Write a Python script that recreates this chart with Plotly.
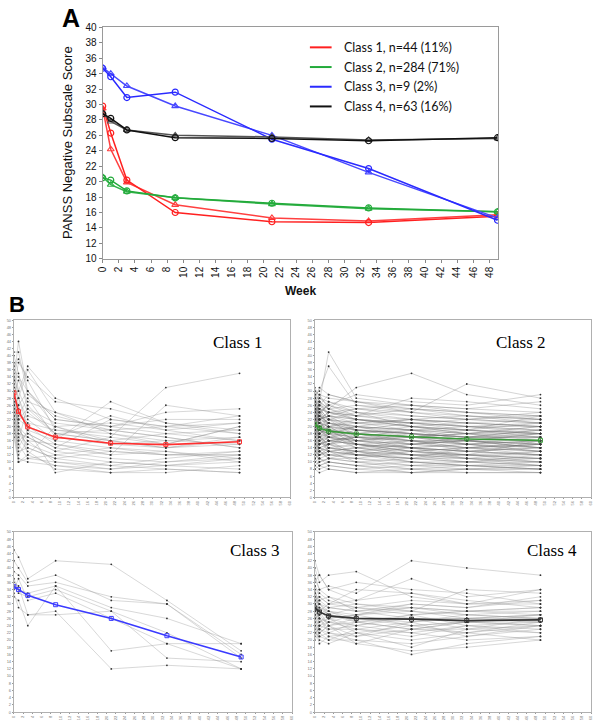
import plotly.graph_objects as go

# ---------------- data ----------------
weeks = [0, 1, 3, 9, 21, 33, 49]
class_names = ["Class 1, n=44 (11%)", "Class 2, n=284 (71%)", "Class 3, n=9 (2%)", "Class 4, n=63 (16%)"]
panel_titles = ["Class 1", "Class 2", "Class 3", "Class 4"]

# Panel A: observed means (circles) and estimated trajectories (triangles)
obs_c1 = [29.8, 26.3, 20.2, 16.0, 14.8, 14.7, 15.5]
est_c1 = [29.5, 24.2, 19.9, 17.0, 15.3, 14.9, 15.7]
obs_c2 = [20.5, 20.2, 18.8, 17.9, 17.2, 16.6, 16.1]
est_c2 = [20.6, 19.6, 18.7, 17.9, 17.1, 16.5, 16.1]
obs_c3 = [34.7, 33.6, 30.9, 31.6, 25.5, 21.7, 15.0]
est_c3 = [34.8, 34.0, 32.4, 29.8, 26.0, 21.2, 15.3]
obs_c4 = [28.8, 28.2, 26.7, 25.7, 25.6, 25.3, 25.7]
est_c4 = [28.9, 27.8, 26.7, 26.0, 25.8, 25.4, 25.6]

y_ticks_A = list(range(10, 41, 2))
x_ticks_A = list(range(0, 49, 2))
y_ticks_B = list(range(0, 51, 2))
x_ticks_B = list(range(0, 61, 2))

# Panel B: individual trajectories
ind_c1 = [
    [33, 44, 30, 22, 20, 18, 19], [40, 35, 25, 18, 16, 14, 15], [38, 30, 37, 28, 22, 20, 21],
    [36, 34, 30, 20, 15, 16, 17], [35, 28, 22, 16, 14, 12, 13], [34, 30, 24, 18, 19, 20, 23],
    [33, 26, 18, 14, 12, 13, 11], [32, 28, 36, 24, 18, 16, 15], [31, 22, 20, 15, 13, 12, 12],
    [30, 25, 19, 16, 27, 21, 18], [30, 20, 17, 13, 11, 10, 11], [29, 24, 21, 19, 17, 31, 35],
    [28, 18, 15, 12, 10, 9, 8], [28, 26, 30, 22, 20, 24, 25], [27, 20, 14, 11, 9, 8, 7],
    [27, 22, 23, 20, 16, 18, 16], [26, 19, 16, 10, 8, 10, 12], [26, 23, 28, 17, 15, 14, 16],
    [25, 21, 12, 9, 7, 8, 7], [25, 16, 18, 14, 22, 20, 18], [24, 17, 13, 8, 7, 7, 9],
    [24, 22, 25, 21, 19, 17, 14], [23, 15, 11, 12, 14, 13, 10], [23, 18, 17, 13, 17, 15, 20],
    [22, 14, 19, 7, 10, 9, 10], [22, 12, 16, 15, 12, 26, 23], [21, 10, 11, 10, 9, 11, 13],
    [20, 13, 14, 11, 13, 12, 12], [19, 16, 26, 18, 16, 14, 17], [18, 11, 10, 9, 8, 9, 11],
    [17, 10, 12, 20, 21, 19, 16], [29, 33, 27, 24, 20, 22, 22], [31, 38, 34, 27, 25, 21, 19],
    [41, 41, 29, 23, 19, 17, 14], [37, 39, 33, 19, 18, 15, 20], [26, 28, 20, 17, 23, 19, 21],
]
ind_c2 = [
    [31, 28, 26, 29, 27, 26, 29], [30, 27, 41, 28, 26, 25, 27], [29, 30, 37, 26, 24, 32, 28],
    [28, 26, 25, 31, 35, 29, 26], [27, 25, 24, 23, 28, 27, 25], [27, 22, 23, 25, 26, 24, 23],
    [26, 24, 22, 21, 22, 23, 22], [26, 23, 27, 24, 20, 21, 20], [25, 21, 20, 22, 21, 19, 23],
    [25, 24, 19, 20, 19, 20, 18], [24, 22, 23, 19, 18, 17, 19], [24, 19, 21, 18, 20, 18, 16],
    [23, 21, 18, 20, 17, 19, 17], [23, 20, 22, 17, 16, 16, 18], [22, 18, 17, 19, 18, 15, 16],
    [22, 21, 20, 16, 17, 18, 15], [21, 19, 18, 18, 15, 17, 17], [21, 17, 19, 15, 16, 14, 16],
    [21, 20, 16, 17, 19, 16, 14], [20, 18, 20, 16, 14, 15, 17], [20, 19, 17, 18, 16, 13, 15],
    [20, 16, 18, 14, 15, 16, 14], [19, 17, 15, 16, 17, 15, 13], [19, 18, 19, 15, 13, 14, 15],
    [19, 15, 16, 17, 14, 12, 16], [18, 17, 14, 13, 15, 16, 14], [18, 16, 17, 15, 12, 13, 12],
    [18, 14, 15, 14, 16, 15, 13], [17, 15, 16, 12, 14, 13, 14], [17, 16, 13, 14, 13, 12, 11],
    [17, 13, 14, 13, 11, 14, 12], [16, 14, 12, 11, 13, 11, 13], [16, 15, 15, 12, 12, 12, 11],
    [15, 13, 11, 13, 10, 10, 12], [15, 12, 13, 10, 11, 11, 10], [14, 12, 12, 11, 9, 10, 9],
    [14, 11, 10, 9, 10, 9, 10], [13, 10, 11, 10, 8, 8, 9], [12, 11, 9, 8, 9, 9, 8],
    [11, 9, 10, 9, 7, 8, 8], [10, 9, 8, 7, 8, 7, 7], [9, 8, 9, 8, 7, 8, 7],
    [8, 7, 8, 7, 7, 7, 7], [22, 24, 26, 23, 25, 23, 21], [24, 26, 24, 25, 23, 22, 24],
    [19, 21, 22, 20, 19, 18, 20], [16, 18, 20, 21, 20, 19, 21], [13, 15, 17, 16, 18, 17, 19],
    [12, 14, 15, 17, 15, 16, 18], [26, 22, 18, 15, 13, 12, 10], [28, 23, 19, 16, 14, 11, 9],
    [23, 17, 13, 12, 11, 10, 11], [20, 22, 24, 22, 21, 20, 19], [18, 20, 19, 18, 17, 18, 20],
    [15, 17, 16, 15, 14, 15, 16], [27, 29, 25, 26, 25, 24, 22], [25, 23, 21, 19, 18, 17, 16],
    [14, 16, 14, 13, 14, 13, 14], [17, 19, 17, 16, 15, 14, 15], [21, 23, 21, 20, 18, 17, 17],
    [11, 13, 12, 12, 11, 12, 12], [29, 27, 23, 22, 20, 19, 18], [23, 25, 20, 18, 16, 14, 13],
    [19, 20, 21, 19, 21, 22, 23], [16, 13, 15, 18, 19, 17, 18], [25, 22, 17, 14, 12, 10, 9],
    [21, 18, 14, 12, 10, 9, 8], [18, 19, 18, 20, 22, 21, 22], [13, 12, 13, 14, 12, 11, 10],
    [28, 31, 29, 27, 26, 25, 24], [24, 27, 25, 22, 21, 20, 21], [20, 25, 22, 19, 17, 18, 19],
    [30, 29, 28, 27, 25, 24, 23], [29, 25, 22, 24, 23, 22, 21], [28, 24, 20, 19, 18, 16, 15],
    [27, 26, 23, 21, 22, 20, 19], [26, 25, 24, 22, 20, 18, 17], [25, 20, 17, 16, 15, 14, 13],
    [24, 23, 22, 21, 19, 18, 18], [23, 22, 24, 23, 22, 21, 20], [22, 19, 16, 15, 14, 13, 12],
    [21, 22, 23, 22, 20, 19, 18], [20, 17, 15, 13, 12, 12, 11], [19, 19, 18, 17, 16, 16, 16],
    [18, 18, 20, 19, 18, 17, 17], [17, 18, 16, 15, 13, 12, 13], [16, 17, 18, 17, 16, 15, 14],
    [15, 14, 13, 12, 11, 10, 10], [14, 15, 16, 17, 17, 16, 15], [13, 14, 13, 12, 13, 14, 15],
    [12, 13, 11, 10, 9, 8, 8], [11, 12, 14, 15, 14, 13, 12], [10, 11, 12, 13, 12, 11, 11],
    [9, 10, 11, 11, 10, 9, 9], [8, 9, 10, 9, 8, 9, 8], [24, 26, 29, 27, 24, 23, 22],
    [22, 27, 25, 23, 21, 20, 20], [20, 24, 26, 24, 22, 21, 20], [18, 22, 21, 20, 19, 19, 18],
    [26, 28, 27, 25, 24, 22, 21], [23, 21, 19, 18, 17, 16, 15], [21, 20, 19, 18, 17, 15, 14],
]
ind_c3 = [
    [45, 43, 37, 42, 41, 31, 17], [42, 40, 36, 38, 31, 30, 16], [39, 38, 35, 36, 32, 30, 15],
    [37, 34, 33, 35, 29, 26, 19], [35, 33, 32, 34, 28, 22, 12], [34, 37, 31, 33, 26, 19, 19],
    [33, 29, 27, 27, 28, 15, 14], [32, 31, 24, 35, 17, 19, 12], [36, 35, 27, 28, 12, 13, 12],
]
ind_c4 = [
    [42, 38, 34, 36, 34, 33, 30], [40, 36, 38, 39, 32, 30, 34], [38, 34, 35, 33, 42, 40, 38],
    [36, 38, 34, 31, 37, 32, 34], [35, 32, 30, 34, 33, 30, 31], [34, 30, 29, 30, 28, 34, 33],
    [33, 31, 32, 28, 30, 29, 32], [33, 29, 27, 29, 27, 28, 29], [32, 28, 26, 27, 29, 27, 28],
    [31, 27, 28, 25, 26, 26, 27], [31, 30, 27, 26, 25, 27, 26], [30, 26, 25, 27, 24, 25, 27],
    [30, 28, 26, 24, 27, 24, 25], [29, 25, 27, 25, 23, 25, 24], [29, 27, 24, 26, 26, 23, 26],
    [28, 24, 25, 23, 25, 26, 25], [28, 26, 23, 24, 22, 24, 23], [27, 25, 26, 22, 24, 22, 25],
    [27, 23, 22, 25, 23, 23, 24], [26, 24, 23, 23, 21, 24, 22], [26, 22, 24, 21, 25, 21, 23],
    [25, 23, 21, 22, 20, 22, 24], [25, 21, 22, 20, 19, 21, 24], [24, 22, 20, 23, 22, 20, 21],
    [24, 20, 19, 22, 18, 23, 22], [23, 19, 21, 19, 17, 18, 20], [22, 21, 20, 20, 16, 19, 21],
    [22, 23, 25, 24, 26, 25, 26], [21, 24, 26, 27, 28, 26, 27], [20, 22, 24, 25, 27, 28, 29],
    [35, 33, 31, 29, 28, 27, 26], [37, 34, 32, 30, 29, 28, 27], [31, 32, 30, 29, 31, 30, 30],
    [28, 29, 28, 27, 30, 29, 31], [26, 27, 29, 28, 29, 28, 28], [32, 30, 28, 26, 24, 25, 25],
    [30, 31, 29, 28, 26, 26, 26], [27, 28, 30, 31, 33, 31, 29], [29, 26, 22, 21, 23, 22, 20],
    [34, 28, 24, 19, 23, 25, 24],
]

colors_A = ["#ff2020", "#22aa3a", "#2a2aff", "#111111"]
colors_A2 = ["#ff4040", "#33b34a", "#4848ff", "#555555"]
obs_all = [obs_c1, obs_c2, obs_c3, obs_c4]
est_all = [est_c1, est_c2, est_c3, est_c4]
ind_all = [ind_c1, ind_c2, ind_c3, ind_c4]

W, H = 600, 727
def px(x): return x / W
def py(y): return 1 - y / H

fig = go.Figure()

# -------- Panel A --------
for i in range(4):
    fig.add_trace(go.Scatter(x=weeks, y=est_all[i], mode="lines+markers", xaxis="x", yaxis="y",
                             line=dict(color=colors_A2[i], width=1.5),
                             marker=dict(symbol="triangle-up-open", size=6, color=colors_A2[i], line=dict(width=1.2)),
                             showlegend=False, hoverinfo="skip"))
    fig.add_trace(go.Scatter(x=weeks, y=obs_all[i], mode="lines+markers", xaxis="x", yaxis="y",
                             line=dict(color=colors_A[i], width=1.5),
                             marker=dict(symbol="circle-open", size=6, color=colors_A[i], line=dict(width=1.2)),
                             showlegend=False, hoverinfo="skip"))

# -------- Panel B --------
mean_cols = ["#ff3030", "#3a9a3a", "#3a3aff", "#333333"]
for i in range(4):
    xs, ys = [], []
    for tr in ind_all[i]:
        xs += weeks + [None]
        ys += tr + [None]
    ax = str(i + 2)
    lc = "rgba(110,110,110,0.6)" if i == 1 else "rgba(150,150,150,0.75)"
    fig.add_trace(go.Scatter(x=xs, y=ys, mode="lines+markers", xaxis="x" + ax, yaxis="y" + ax,
                             line=dict(color=lc, width=0.5),
                             marker=dict(size=1.8, color="#333333"),
                             showlegend=False, hoverinfo="skip"))
    fig.add_trace(go.Scatter(x=weeks, y=est_all[i], mode="lines+markers", xaxis="x" + ax, yaxis="y" + ax,
                             line=dict(color=mean_cols[i], width=1.6),
                             marker=dict(symbol="square-open", size=4, color=mean_cols[i]),
                             showlegend=False, hoverinfo="skip"))

axA = dict(showgrid=False, zeroline=False, showline=True, mirror=True, linecolor="#9a9a9a",
           linewidth=1, ticks="outside", ticklen=3, tickcolor="#888",
           tickfont=dict(family="Liberation Sans Narrow, Arial Narrow, Liberation Sans, Arial", size=10, color="#111"))
layout = dict(
    width=W, height=H, autosize=False, margin=dict(l=0, r=0, t=0, b=0),
    paper_bgcolor="white", plot_bgcolor="white",
    xaxis=dict(axA, domain=[px(98), px(499)], range=[0, 49.1], tickvals=x_ticks_A, tickangle=-90, anchor="y"),
    yaxis=dict(axA, domain=[py(257.7), py(22.7)], range=[10, 40], tickvals=y_ticks_A, anchor="x"),
)

doms_x = [[px(8), px(288)], [px(313), px(593)], [px(8), px(290)], [px(313), px(593)]]
doms_y = [[py(500), py(320)], [py(500), py(320)], [py(718), py(535)], [py(718), py(535)]]
axB = dict(showgrid=False, zeroline=False, showline=True, mirror=True, linecolor="#b0b0b0",
           linewidth=1, ticks="outside", ticklen=1, tickcolor="#999",
           tickfont=dict(family="Liberation Sans", size=4, color="#777"))
for i in range(4):
    n = str(i + 2)
    layout["xaxis" + n] = dict(axB, domain=doms_x[i], range=[0, 60], tickvals=x_ticks_B, tickangle=-90, anchor="y" + n)
    layout["yaxis" + n] = dict(axB, domain=doms_y[i], range=[0, 50], tickvals=y_ticks_B, anchor="x" + n)

fig.update_layout(**layout)

ann = []
ann.append(dict(text="<b>A</b>", x=px(66), y=py(13), xref="paper", yref="paper", showarrow=False,
                font=dict(family="Liberation Sans, Arial", size=25, color="#000"), xanchor="center", yanchor="middle"))
ann.append(dict(text="<b>B</b>", x=px(11), y=py(304), xref="paper", yref="paper", showarrow=False,
                font=dict(family="Liberation Sans, Arial", size=22, color="#000"), xanchor="center", yanchor="middle"))
ann.append(dict(text="PANSS Negative Subscale Score", x=px(63), y=py(140), xref="paper", yref="paper",
                showarrow=False, textangle=-90,
                font=dict(family="Liberation Sans, Arial", size=13, color="#111"), xanchor="center", yanchor="middle"))
ann.append(dict(text="<b>Week</b>", x=px(298), y=py(290), xref="paper", yref="paper", showarrow=False,
                font=dict(family="Liberation Sans, Arial", size=12, color="#111"), xanchor="center", yanchor="middle"))

leg_y = [43, 63, 83, 103]
shapes = []
for i in range(4):
    shapes.append(dict(type="line", xref="paper", yref="paper", x0=px(308), x1=px(330),
                       y0=py(leg_y[i]), y1=py(leg_y[i]), line=dict(color=colors_A[i], width=2)))
    ann.append(dict(text=class_names[i], x=px(341), y=py(leg_y[i]), xref="paper", yref="paper",
                    showarrow=False, xanchor="left", yanchor="middle",
                    font=dict(family="Lato, Open Sans, sans-serif", size=12.5, color="#111")))

title_pos = [(235, 343), (522, 343), (252, 554), (553, 554)]
for i in range(4):
    ann.append(dict(text=panel_titles[i], x=px(title_pos[i][0]), y=py(title_pos[i][1]), xref="paper", yref="paper",
                    showarrow=False, xanchor="center", yanchor="middle",
                    font=dict(family="Liberation Serif, Times New Roman, serif", size=17, color="#000")))

fig.update_layout(annotations=ann, shapes=shapes)
fig.write_html("out.html", config={"displayModeBar": False},
               post_script="document.body.style.margin='0';document.body.style.overflow='hidden';")
